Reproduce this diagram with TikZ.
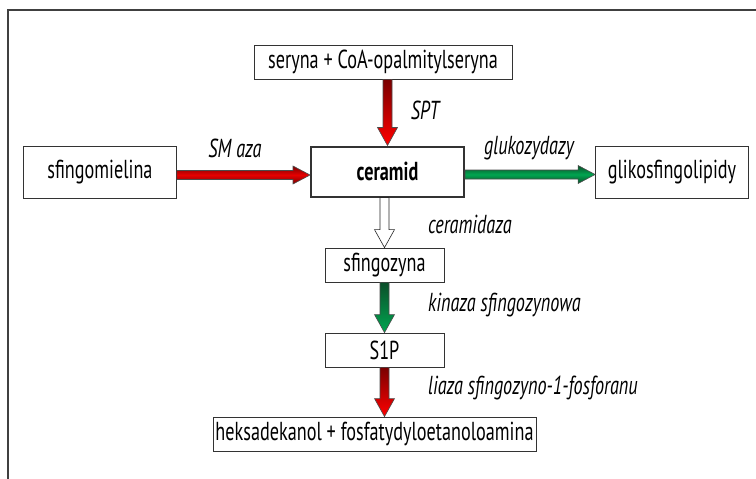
\documentclass[tikz,border=0pt]{standalone}
\usepackage{fontspec}
\setmainfont{PT Sans}[FakeStretch=0.70]
\usetikzlibrary{calc}
\definecolor{rdark}{HTML}{7A0000}
\definecolor{rlight}{HTML}{FF0000}
\definecolor{gdark}{HTML}{0B4F2A}
\definecolor{glight}{HTML}{00A550}
\definecolor{framec}{HTML}{404040}
\tikzset{
  box/.style={draw=black!80, line width=0.8pt, fill=white, inner sep=0pt, font=\fontsize{26}{28}\selectfont},
  lbl/.style={font=\fontsize{26}{28}\selectfont\itshape, inner sep=0pt},
  arrline/.style={draw=black!70, line width=0.6pt},
  redv/.style={arrline, top color=rdark, bottom color=rlight},
  greenv/.style={arrline, top color=gdark, bottom color=glight},
  whitev/.style={arrline, draw=black!85, fill=white},
  redh/.style={arrline, top color=rdark, bottom color=rdark, middle color=rlight!90!black},
  greenh/.style={arrline, top color=gdark, bottom color=gdark, middle color=glight},
}
% vertical block arrow from point #2 down to point #3 (same x as #3)
\newcommand{\vblockarrow}[3]{%
  \path[#1] let \p1=#2, \p2=#3 in
    (\x2-4.5pt,\y1) -- (\x2+4.5pt,\y1) -- (\x2+4.5pt,\y2+18pt) -- (\x2+10pt,\y2+18pt)
    -- (\x2,\y2) -- (\x2-10pt,\y2+18pt) -- (\x2-4.5pt,\y2+18pt) -- cycle;}
% horizontal block arrow from point #2 right to point #3 (same y as #2)
\newcommand{\hblockarrow}[3]{%
  \path[#1] let \p1=#2, \p2=#3 in
    (\x1,\y1+4.5pt) -- (\x2-17pt,\y1+4.5pt) -- (\x2-17pt,\y1+9pt) -- (\x2,\y1)
    -- (\x2-17pt,\y1-9pt) -- (\x2-17pt,\y1-4.5pt) -- (\x1,\y1-4.5pt) -- cycle;}
\begin{document}
\begin{tikzpicture}[x=1pt,y=-1pt]
\useasboundingbox (0,0) rectangle (756,479);
\fill[white] (0,0) rectangle (756,479);
% frame
\coordinate (ftl) at (8,10);
\coordinate (ftr) at (756,10);
\coordinate (fbl) at (8,479);
\draw[framec, line width=1.4pt] (ftr) -- (ftl) -- (fbl);
% nodes
\node[box, minimum width=258pt, minimum height=34pt] (ser) at (383,62) {seryna + CoA-opalmitylseryna};
\node[box, line width=2pt, minimum width=153pt, minimum height=50pt, font=\fontsize{26}{28}\selectfont\bfseries] (cer) at (387.5,171.5) {ceramid};
\node[box, minimum width=153pt, minimum height=52pt] (sm) at (100,172) {sfingomielina};
\node[box, minimum width=153pt, minimum height=52pt] (gli) at (672,172) {glikosfingolipidy};
\node[box, minimum width=119pt, minimum height=34pt] (sfz) at (384.5,265) {sfingozyna};
\node[box, minimum width=119pt, minimum height=34pt] (s1p) at (384.5,350) {S1P};
\node[box, minimum width=323pt, minimum height=34pt] (hek) at (374.5,434) {heksadekanol + fosfatydyloetanoloamina};
% arrows
\vblockarrow{redv}{(ser.south)}{(cer.north)}
\hblockarrow{redh}{($(sm.east)+(0,3)$)}{($(cer.west)+(0,3)$)}
\hblockarrow{greenh}{($(cer.east)+(0,3)$)}{($(gli.west)+(0,3)$)}
\vblockarrow{whitev}{(cer.south)}{(sfz.north)}
\vblockarrow{greenv}{(sfz.south)}{(s1p.north)}
\vblockarrow{redv}{(s1p.south)}{(hek.north -| s1p.south)}
% labels
\node[lbl] (lspt) at (425,110) {SPT};
\node[lbl] (lsm) at (235,148) {SM aza};
\node[lbl] (lglu) at (529,148) {glukozydazy};
\node[lbl, anchor=west] (lcer) at (428,224) {ceramidaza};
\node[lbl, anchor=west] (lkin) at (428,305) {kinaza sfingozynowa};
\node[lbl, anchor=west] (llia) at (428,388) {liaza sfingozyno-1-fosforanu};
\end{tikzpicture}
\end{document}
